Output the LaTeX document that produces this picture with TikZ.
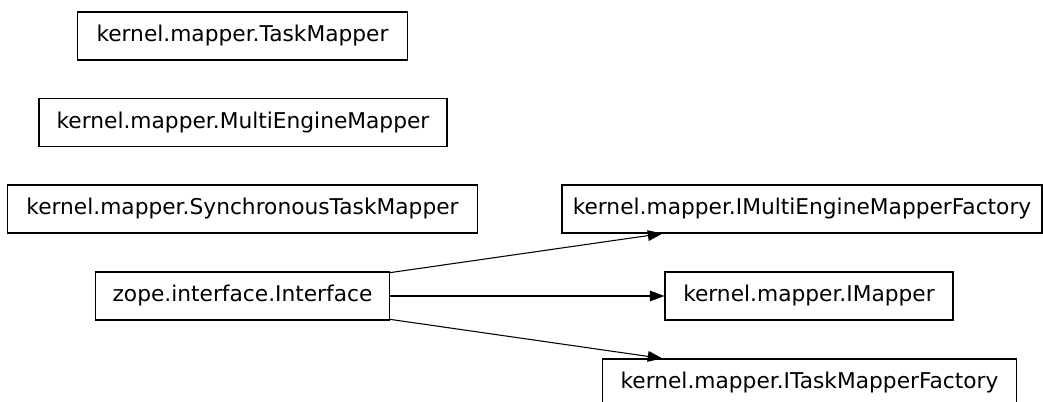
\documentclass[tikz,border=0pt]{standalone}
\usepackage{fontspec}
\setmainfont{DejaVu Sans}
\usetikzlibrary{arrows.meta, positioning, calc}

\begin{document}
\begin{tikzpicture}[
    x=0.75pt, y=-0.75pt,
    cls/.style={draw, line width=0.8pt, inner sep=0pt, minimum height=36pt, font=\fontsize{16.3}{19}\selectfont},
    arr/.style={-{Triangle[length=11pt, width=8pt]}, line width=0.8pt}
]
\useasboundingbox (0,0) rectangle (1043,402);

\node[cls, minimum width=247pt] (taskmapper) at (242.5,36) {kernel.mapper.TaskMapper};
\node[cls, minimum width=306pt] (multimapper) at (243,122.5) {kernel.mapper.MultiEngineMapper};
\node[cls, minimum width=353pt] (syncmapper) at (242.5,209) {kernel.mapper.SynchronousTaskMapper};
\node[cls, minimum width=220pt] (iface) at (242.5,296) {zope.interface.Interface};
\node[cls, minimum width=360pt] (imulti) at (802,209) {kernel.mapper.IMultiEngineMapperFactory};
\node[cls, minimum width=216pt] (imapper) at (809,296) {kernel.mapper.IMapper};
\node[cls, minimum width=310pt] (itask) at (809.5,383) {kernel.mapper.ITaskMapperFactory};

\draw[arr] (iface.9) -- ($(imulti.south west)!0.21!(imulti.south east)$);
\draw[arr] (iface.east) -- (imapper.west);
\draw[arr] (iface.-9) -- ($(itask.north west)!0.145!(itask.north east)$);
\end{tikzpicture}
\end{document}
